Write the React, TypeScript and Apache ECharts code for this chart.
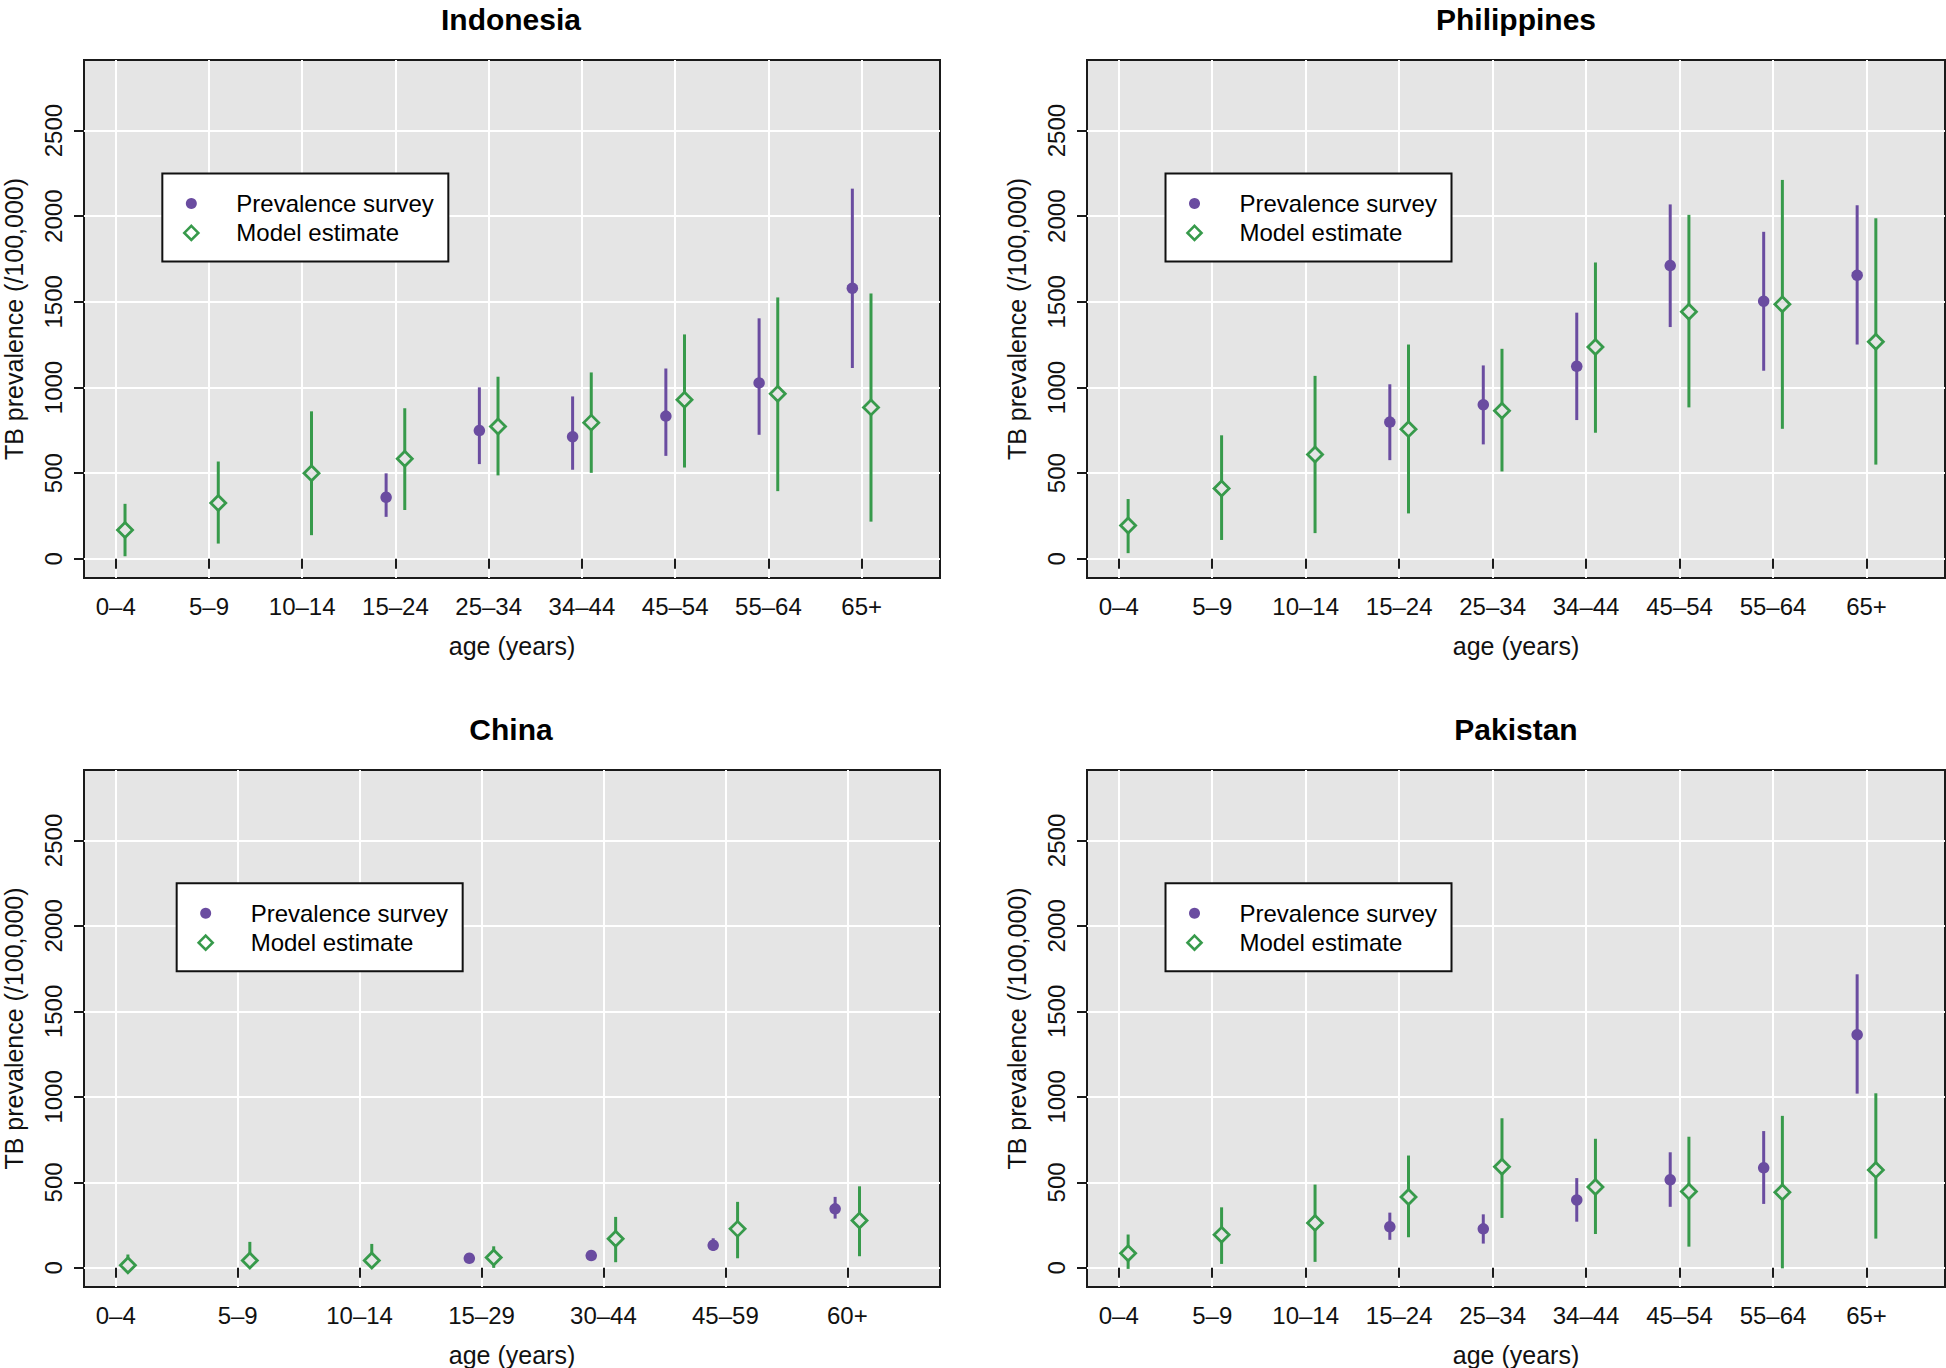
import React, { useEffect, useRef } from "react";
import * as echarts from "echarts";

// ---------- data ----------
const ageGroupsA = ["0–4", "5–9", "10–14", "15–24", "25–34", "34–44", "45–54", "55–64", "65+"];
const ageGroupsChina = ["0–4", "5–9", "10–14", "15–29", "30–44", "45–59", "60+"];
const yTickValues = [0, 500, 1000, 1500, 2000, 2500];

const idnSurveyMid = [null, null, null, 359, 749, 713, 833, 1027, 1580];
const idnSurveyLow = [null, null, null, 245, 553, 520, 601, 724, 1114];
const idnSurveyHigh = [null, null, null, 499, 1001, 948, 1111, 1404, 2161];
const idnModelMid = [168, 326, 499, 584, 772, 795, 928, 963, 884];
const idnModelLow = [15, 89, 138, 285, 487, 502, 533, 395, 217];
const idnModelHigh = [321, 568, 861, 879, 1063, 1088, 1310, 1526, 1549];

const phlSurveyMid = [null, null, null, 798, 900, 1124, 1712, 1504, 1656];
const phlSurveyLow = [null, null, null, 576, 668, 810, 1353, 1098, 1251];
const phlSurveyHigh = [null, null, null, 1019, 1129, 1437, 2069, 1909, 2064];
const phlModelMid = [194, 410, 609, 757, 864, 1236, 1442, 1486, 1267];
const phlModelLow = [33, 110, 150, 265, 510, 736, 884, 759, 550];
const phlModelHigh = [349, 721, 1068, 1251, 1226, 1730, 2008, 2212, 1988];

const chnSurveyMid = [null, null, null, 56, 72, 132, 345];
const chnSurveyLow = [null, null, null, 35, 50, 100, 288];
const chnSurveyHigh = [null, null, null, 80, 95, 173, 415];
const chnModelMid = [15, 43, 43, 60, 170, 228, 277];
const chnModelLow = [0, 0, 0, 0, 33, 56, 68];
const chnModelHigh = [78, 152, 140, 126, 298, 386, 477];

const pakSurveyMid = [null, null, null, 240, 228, 397, 515, 585, 1364];
const pakSurveyLow = [null, null, null, 164, 142, 270, 357, 374, 1019];
const pakSurveyHigh = [null, null, null, 323, 313, 525, 676, 800, 1717];
const pakModelMid = [86, 193, 263, 415, 591, 473, 446, 442, 573];
const pakModelLow = [-6, 23, 35, 179, 292, 198, 124, -3, 171];
const pakModelHigh = [195, 354, 487, 657, 875, 755, 767, 889, 1021];

const panels = [
  { title: "Indonesia", cats: ageGroupsA, sMid: idnSurveyMid, sLow: idnSurveyLow, sHigh: idnSurveyHigh, mMid: idnModelMid, mLow: idnModelLow, mHigh: idnModelHigh },
  { title: "Philippines", cats: ageGroupsA, sMid: phlSurveyMid, sLow: phlSurveyLow, sHigh: phlSurveyHigh, mMid: phlModelMid, mLow: phlModelLow, mHigh: phlModelHigh },
  { title: "China", cats: ageGroupsChina, sMid: chnSurveyMid, sLow: chnSurveyLow, sHigh: chnSurveyHigh, mMid: chnModelMid, mLow: chnModelLow, mHigh: chnModelHigh },
  { title: "Pakistan", cats: ageGroupsA, sMid: pakSurveyMid, sLow: pakSurveyLow, sHigh: pakSurveyHigh, mMid: pakModelMid, mLow: pakModelLow, mHigh: pakModelHigh },
];

const legendLabels = ["Prevalence survey", "Model estimate"];
const yAxisTitle = "TB prevalence (/100,000)";
const xAxisTitle = "age (years)";

// ---------- style / layout ----------
const PURPLE = "#6A4CA0";
const GREEN = "#379A4B";
const PANEL_BG = "#E5E5E5";
const FONT = '"Liberation Sans", Arial, Helvetica, sans-serif';
const OFFSET = 0.1;
const Y_LIM = [0, 2800];
const LEGEND_ANCHOR = [1.5, 2250];

const gridRects = [
  { left: 82, top: 60, width: 858, height: 518 },
  { left: 1087, top: 60, width: 858, height: 518 },
  { left: 82, top: 770, width: 858, height: 517 },
  { left: 1087, top: 770, width: 858, height: 517 },
];

function errorBarSeries(data: number[][], color: string, idx: number, name: string) {
  return {
    type: "custom",
    name,
    xAxisIndex: idx,
    yAxisIndex: idx,
    silent: true,
    z: 2,
    encode: { x: 0, y: [1, 2] },
    data,
    renderItem: (params: any, api: any) => {
      const x = api.value(0);
      const p1 = api.coord([x, api.value(1)]);
      const p2 = api.coord([x, api.value(2)]);
      return {
        type: "line",
        shape: { x1: p1[0], y1: p1[1], x2: p2[0], y2: p2[1] },
        style: { stroke: color, lineWidth: 3 },
      };
    },
  };
}

export default function App() {
  const ref = useRef<HTMLDivElement>(null);

  useEffect(() => {
    if (!ref.current) return;
    const chart = echarts.init(ref.current, null, { renderer: "svg" });

    const grid: any[] = [];
    const xAxis: any[] = [];
    const yAxis: any[] = [];
    const series: any[] = [];

    const yPad = 0.04 * (Y_LIM[1] - Y_LIM[0]);

    panels.forEach((p, i) => {
      const n = p.cats.length;
      const xPad = 0.04 * (n + 0.5 - 1);
      grid.push({
        ...gridRects[i],
        show: true,
        backgroundColor: PANEL_BG,
        borderColor: "#1a1a1a",
        borderWidth: 2,
        containLabel: false,
      });
      const tickVals = p.cats.map((_, k) => k + 1);
      xAxis.push({
        type: "value",
        gridIndex: i,
        min: 1 - xPad,
        max: n + 0.5 + xPad,
        axisLine: { show: false },
        axisTick: { show: true, customValues: tickVals, length: 10, lineStyle: { color: "#1a1a1a", width: 2 } },
        axisLabel: {
          customValues: tickVals,
          formatter: (v: number) => p.cats[Math.round(v) - 1] ?? "",
          fontSize: 24,
          fontFamily: FONT,
          color: "#111",
          margin: 16,
        },
        splitLine: { show: true, lineStyle: { color: "#ffffff", width: 2 } },
        name: xAxisTitle,
        nameLocation: "middle",
        nameGap: 55,
        nameTextStyle: { fontSize: 25, fontFamily: FONT, color: "#111" },
      });
      yAxis.push({
        type: "value",
        gridIndex: i,
        min: Y_LIM[0] - yPad,
        max: Y_LIM[1] + yPad,
        axisLine: { show: false },
        axisTick: { show: true, customValues: yTickValues, length: 10, lineStyle: { color: "#1a1a1a", width: 2 } },
        axisLabel: {
          customValues: yTickValues,
          formatter: (v: number) => String(Math.round(v)),
          rotate: 90,
          fontSize: 24,
          fontFamily: FONT,
          color: "#111",
          margin: 19,
        },
        splitLine: { show: true, lineStyle: { color: "#ffffff", width: 2 } },
        name: yAxisTitle,
        nameLocation: "middle",
        nameRotate: 90,
        nameGap: 58,
        nameTextStyle: { fontSize: 25, fontFamily: FONT, color: "#111" },
      });

      const sBars: number[][] = [];
      const sPts: number[][] = [];
      const mBars: number[][] = [];
      const mPts: number[][] = [];
      p.cats.forEach((_, k) => {
        const xs = k + 1 - OFFSET;
        const xm = k + 1 + OFFSET;
        if (p.sMid[k] != null) {
          sBars.push([xs, p.sLow[k] as number, p.sHigh[k] as number]);
          sPts.push([xs, p.sMid[k] as number]);
        }
        if (p.mMid[k] != null) {
          mBars.push([xm, p.mLow[k] as number, p.mHigh[k] as number]);
          mPts.push([xm, p.mMid[k] as number]);
        }
      });

      series.push(errorBarSeries(sBars, PURPLE, i, legendLabels[0]));
      series.push(errorBarSeries(mBars, GREEN, i, legendLabels[1]));
      series.push({
        type: "scatter",
        name: legendLabels[0],
        xAxisIndex: i,
        yAxisIndex: i,
        silent: true,
        z: 3,
        symbol: "circle",
        symbolSize: 11.5,
        itemStyle: { color: PURPLE, opacity: 1 },
        data: sPts,
      });
      series.push({
        type: "scatter",
        name: legendLabels[1],
        xAxisIndex: i,
        yAxisIndex: i,
        silent: true,
        z: 3,
        symbol: "diamond",
        symbolSize: [15, 15],
        itemStyle: { color: PANEL_BG, borderColor: GREEN, borderWidth: 2.8, opacity: 1 },
        data: mPts,
      });
    });

    chart.setOption({
      animation: false,
      backgroundColor: "#ffffff",
      textStyle: { fontFamily: FONT },
      grid,
      xAxis,
      yAxis,
      series,
    });

    const graphic: any[] = [];
    panels.forEach((p, i) => {
      const g = gridRects[i];
      graphic.push({
        type: "text",
        x: g.left + g.width / 2,
        y: g.top - 41,
        silent: true,
        style: {
          text: p.title,
          fill: "#000",
          fontSize: 30,
          fontWeight: "bold",
          fontFamily: FONT,
          align: "center",
          verticalAlign: "middle",
        },
      });
      const pt = chart.convertToPixel({ gridIndex: i } as any, LEGEND_ANCHOR) as number[];
      graphic.push({
        type: "group",
        x: pt[0],
        y: pt[1],
        silent: true,
        children: [
          { type: "rect", shape: { x: 0, y: 0, width: 286, height: 88 }, style: { fill: "#ffffff", stroke: "#111", lineWidth: 2 } },
          { type: "circle", shape: { cx: 29, cy: 30, r: 5.5 }, style: { fill: PURPLE } },
          {
            type: "polygon",
            shape: { points: [[29, 52.5], [36, 59.5], [29, 66.5], [22, 59.5]] },
            style: { fill: "#ffffff", stroke: GREEN, lineWidth: 2.6 },
          },
          {
            type: "text",
            x: 74,
            y: 30,
            style: { text: legendLabels[0], fill: "#000", fontSize: 24, fontFamily: FONT, align: "left", verticalAlign: "middle" },
          },
          {
            type: "text",
            x: 74,
            y: 59.5,
            style: { text: legendLabels[1], fill: "#000", fontSize: 24, fontFamily: FONT, align: "left", verticalAlign: "middle" },
          },
        ],
      });
    });
    chart.setOption({ graphic });

    return () => {
      chart.dispose();
    };
  }, []);

  return (
    <div
      ref={ref}
      style={{ position: "absolute", left: 0, top: 0, width: 1946, height: 1368, background: "#ffffff" }}
    />
  );
}
